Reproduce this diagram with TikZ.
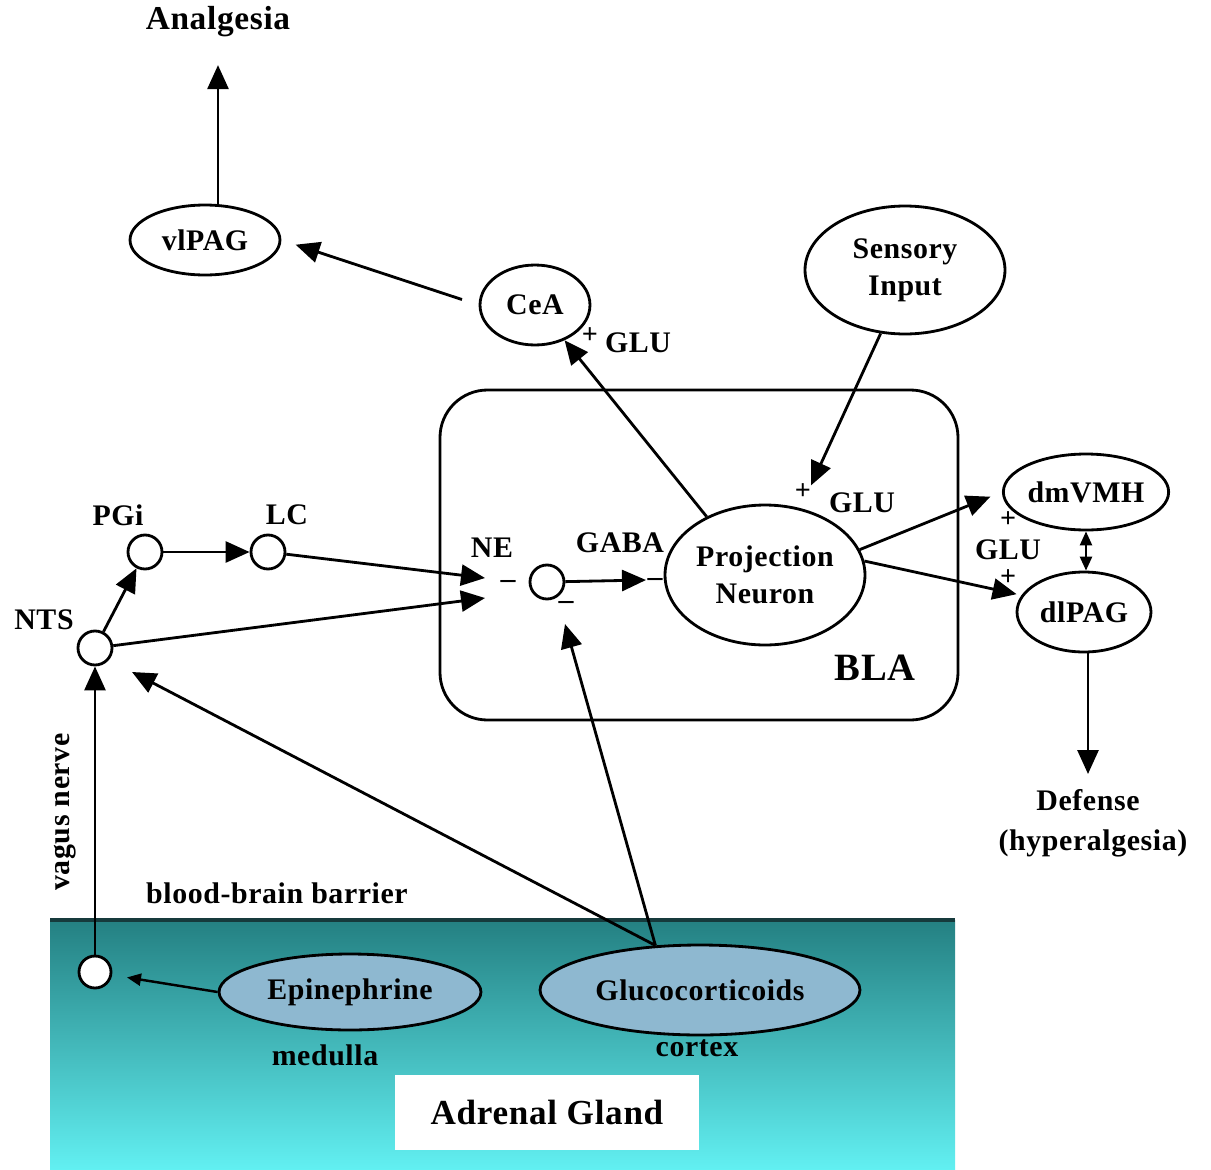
\documentclass[tikz,border=0pt]{standalone}
\usepackage{fontspec}
\setmainfont{Liberation Serif}[LetterSpace=2]
\usetikzlibrary{arrows.meta,shapes.geometric}
\definecolor{glandtop}{RGB}{36,128,130}
\definecolor{glandbot}{RGB}{98,240,242}
\definecolor{hormone}{RGB}{142,184,208}
\definecolor{barrier}{RGB}{22,58,60}
\begin{document}
\begin{tikzpicture}[x=0.02cm,y=-0.02cm,
    >={Triangle[length=0.48cm,width=0.42cm]},
    txt/.style={font=\fontsize{17}{21}\selectfont\bfseries,inner sep=0pt},
    sgn/.style={font=\fontsize{16}{16}\selectfont\bfseries,inner sep=0pt},
    region/.style={draw,ellipse,line width=1.6pt,inner sep=0pt,fill=white,
        align=center,font=\fontsize{17}{21}\selectfont\bfseries},
    cell/.style={draw,circle,line width=1.6pt,minimum size=0.68cm,inner sep=0pt,fill=white},
    conn/.style={->,line width=1.6pt},
    thinconn/.style={-{Triangle[length=0.28cm,width=0.24cm]},line width=1.4pt}]
    \useasboundingbox (0,0) rectangle (1211,1170);
    % adrenal gland below the blood-brain barrier
    \shade[top color=glandtop,bottom color=glandbot] (50,920) rectangle (955,1170);
    \draw[line width=2.4pt,barrier] (50,920) -- (955,920);
    \node[txt,fill=white,minimum width=6.1cm,minimum height=1.5cm,
        font=\fontsize{20}{22}\selectfont\bfseries] (gland) at (547,1112) {Adrenal Gland};
    \node[region,fill=hormone,minimum width=5.24cm,minimum height=1.52cm] (epi) at (350,992) {Epinephrine};
    \node[region,fill=hormone,minimum width=6.4cm,minimum height=1.8cm] (gluco) at (700,990) {Glucocorticoids};
    \node[cell,minimum size=0.64cm] (vagal) at (95,972) {};
    \node[txt] (medulla) at (325,1055) {medulla};
    \node[txt] (cortex) at (697,1048) {cortex};
    \node[txt] (bbb) at (277,893) {blood-brain barrier};
    \node[txt,rotate=90] (vagus) at (65,812) {vagus nerve};
    % basolateral amygdala
    \draw[line width=1.6pt,rounded corners=0.95cm] (440,390) rectangle (958,720);
    \node[txt,font=\fontsize{22}{24}\selectfont\bfseries] (bla) at (875,668) {BLA};
    \node[region,minimum width=4cm,minimum height=2.8cm] (proj) at (765,575) {Projection\\Neuron};
    \node[cell] (inter) at (547,582) {};
    \node[txt] (ne) at (492,548) {NE};
    \node[txt] (gaba) at (620,543) {GABA};
    \node[txt] (m1) at (508,584) {--};
    \node[txt] (m2) at (655,582) {--};
    \node[txt] (m3) at (566,605) {--};
    \coordinate (ne-top) at (485,578);
    \coordinate (ne-bot) at (485,598);
    \coordinate (gaba-in) at (646,580);
    \coordinate (gc-in) at (565,624);
    \coordinate (nts-in) at (132,672);
    % brainstem
    \node[cell] (pgi) at (145,552) {};
    \node[cell] (lc) at (268,552) {};
    \node[cell] (nts) at (95,648) {};
    \node[txt] (pgilbl) at (118,515) {PGi};
    \node[txt] (lclbl) at (287,515) {LC};
    \node[txt] (ntslbl) at (44,620) {NTS};
    % outputs
    \node[txt,font=\fontsize{19}{22}\selectfont\bfseries] (analgesia) at (218,22) {Analgesia};
    \node[region,minimum width=3cm,minimum height=1.4cm] (vlpag) at (205,240) {vlPAG};
    \node[region,minimum width=2.2cm,minimum height=1.6cm] (cea) at (535,305) {CeA};
    \node[sgn] (p1) at (590,336) {+};
    \node[txt] (glu1) at (638,343) {GLU};
    \node[region,minimum width=4cm,minimum height=2.56cm] (sensory) at (905,270) {Sensory\\Input};
    \node[sgn] (p2) at (803,492) {+};
    \node[txt] (glu2) at (862,503) {GLU};
    \node[region,minimum width=3.04cm,minimum height=1.52cm] (dmvmh) at (1086,492) {dmVMH};
    \node[region,minimum width=2.68cm,minimum height=1.6cm] (dlpag) at (1084,612) {dlPAG};
    \node[sgn] (p3) at (1008,520) {+};
    \node[txt] (glu3) at (1008,550) {GLU};
    \node[sgn] (p4) at (1008,578) {+};
    \node[txt] (defense) at (1088,800) {Defense};
    \node[txt] (hyper) at (1093,843) {(hyperalgesia)};
    % connections
    \draw[conn] (vlpag.north -| analgesia.south) -- ([yshift=-0.55cm]analgesia.south);
    \draw[conn,shorten <=0.35cm,shorten >=0.3cm] (cea.west) -- (vlpag.east);
    \draw[conn] (proj.135) -- (cea.-50);
    \draw[conn,shorten >=0.5cm] (sensory.-111) -- (proj.62);
    \draw[conn,shorten >=0.25cm] (proj.15) -- (dmvmh.west);
    \draw[conn,shorten >=0.1cm] (proj.8) -- (dlpag.165);
    \draw[thinconn,{Triangle[length=0.28cm,width=0.24cm]}-{Triangle[length=0.28cm,width=0.24cm]}]
        (dmvmh.south) -- (dlpag.north -| dmvmh.south);
    \draw[conn,shorten >=0.3cm] (dlpag.south -| defense.north) -- (defense.north);
    \draw[conn] (nts) -- (pgi);
    \draw[conn] (pgi) -- (lc);
    \draw[conn] (lc) -- (ne-top);
    \draw[conn] (nts) -- (ne-bot);
    \draw[conn] (inter) -- (gaba-in);
    \draw[conn] (gluco.135) -- (gc-in);
    \draw[conn] (gluco.135) -- (nts-in);
    \draw[conn] (vagal) -- (nts);
    \draw[thinconn,shorten >=0.3cm] (epi.west) -- (vagal.-10);
\end{tikzpicture}
\end{document}
